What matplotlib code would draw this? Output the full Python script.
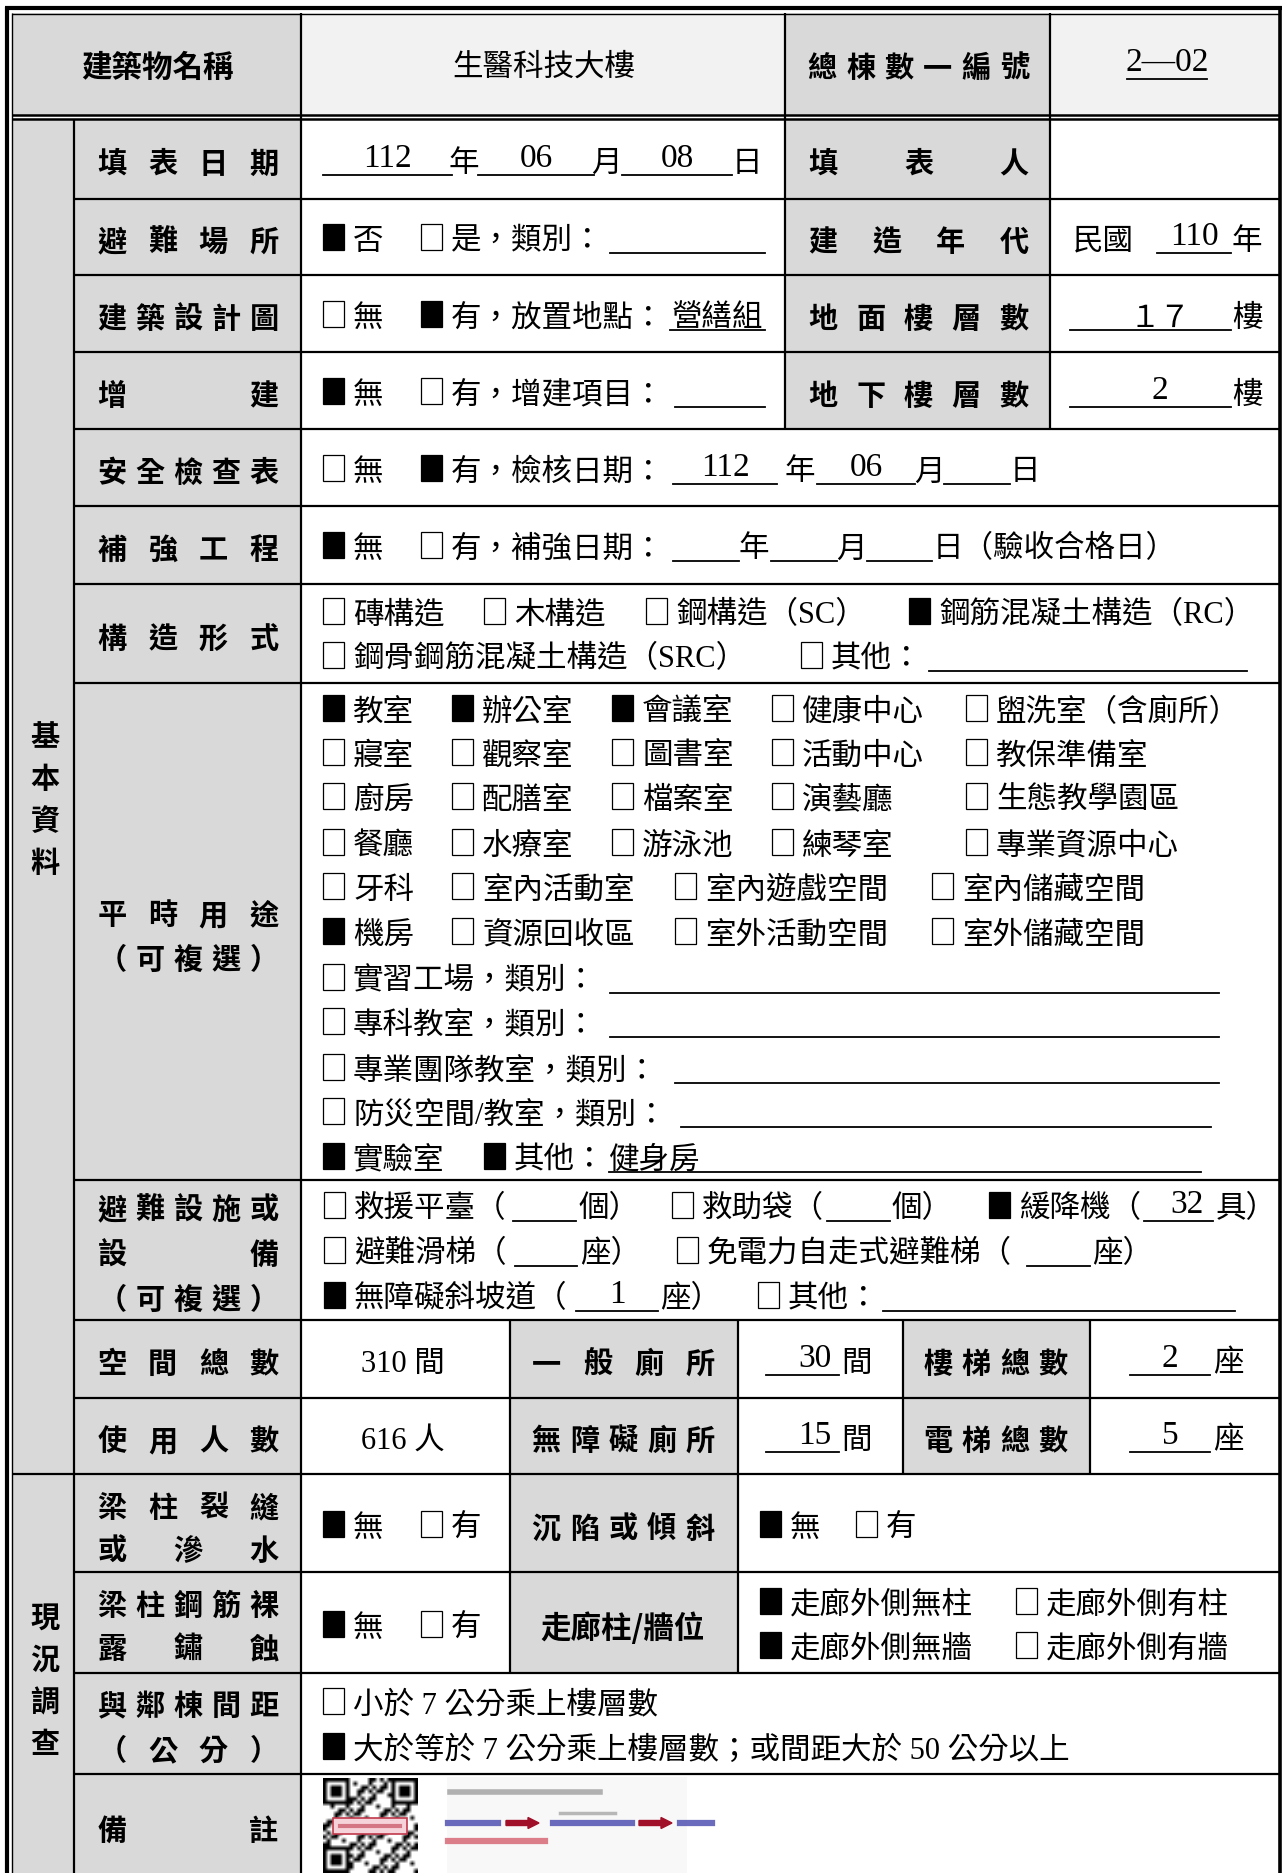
import matplotlib.pyplot as plt
from matplotlib.patches import Rectangle, FancyArrow
import numpy as np

# ---- form contents ----
building_name = '生醫科技大樓'
building_no = '2—02'
fill_date = ['112', '06', '08']
build_year = '110'
floors_up = '１７'
floors_down = '2'
drawing_place = '營繕組'
check_date = ['112', '06', '']

shelter = [True, False]          # 否 / 是
drawing = [False, True]          # 無 / 有
extension = [True, False]        # 無 / 有
safety = [False, True]           # 無 / 有
reinforce = [True, False]        # 無 / 有

structure_1 = [(False, '磚構造'), (False, '木構造'), (False, '鋼構造（SC）'),
               (True, '鋼筋混凝土構造（RC）')]
structure_2 = [(False, '鋼骨鋼筋混凝土構造（SRC）'), (False, '其他：')]

usage_rows = [
    [(True, '教室'), (True, '辦公室'), (True, '會議室'), (False, '健康中心'), (False, '盥洗室（含廁所）')],
    [(False, '寢室'), (False, '觀察室'), (False, '圖書室'), (False, '活動中心'), (False, '教保準備室')],
    [(False, '廚房'), (False, '配膳室'), (False, '檔案室'), (False, '演藝廳'), (False, '生態教學園區')],
    [(False, '餐廳'), (False, '水療室'), (False, '游泳池'), (False, '練琴室'), (False, '專業資源中心')],
    [(False, '牙科'), (False, '室內活動室'), (False, '室內遊戲空間'), (False, '室內儲藏空間')],
    [(True, '機房'), (False, '資源回收區'), (False, '室外活動空間'), (False, '室外儲藏空間')],
]
usage_other = [(False, '實習工場，類別：'), (False, '專科教室，類別：'),
               (False, '專業團隊教室，類別：'), (False, '防災空間/教室，類別：')]
usage_last = [(True, '實驗室'), (True, '其他：')]
usage_other_text = '健身房'

# (checked, text before blank, value, text after blank)
evac_rows = [
    [(False, '救援平臺（', '', '個）'), (False, '救助袋（', '', '個）'), (True, '緩降機（', '32', '具）')],
    [(False, '避難滑梯（', '', '座）'), (False, '免電力自走式避難梯（', '', '座）')],
    [(True, '無障礙斜坡道（', '1', '座）'), (False, '其他：', '', '')],
]

room_total = '310 間'
users = '616 人'
toilet_general = '30'
toilet_access = '15'
stairs = '2'
elevators = '5'

crack = [True, False]
tilt = [True, False]
rebar = [True, False]
corridor = [(True, '走廊外側無柱'), (False, '走廊外側有柱'), (True, '走廊外側無牆'), (False, '走廊外側有牆')]
distance = [(False, '小於 7 公分乘上樓層數'), (True, '大於等於 7 公分乘上樓層數；或間距大於 50 公分以上')]

# ---- figure ----
fig = plt.figure(figsize=(12.84, 18.74), dpi=100)
ax = fig.add_axes([0, 0, 1, 1])
ax.set_xlim(0, 1284)
ax.set_ylim(1874, 0)
ax.axis('off')

GRAY = '#d9d9d9'
LIGHT = '#f2f2f2'
BODY = ['Liberation Serif', 'Noto Sans CJK TC']
CJK = ['Noto Sans CJK TC']
FS = 22
LFS = 21
DY = 4   # text sits a little lower than the cell middle


def fill(x0, x1, y0, y1, c):
    ax.add_patch(Rectangle((x0, y0), x1 - x0, y1 - y0, facecolor=c, edgecolor='none', zorder=0))


def hl(y, x0, x1, lw=1.6):
    ax.plot([x0, x1], [y, y], color='black', lw=lw, solid_capstyle='butt', zorder=2)


def vl(x, y0, y1, lw=1.6):
    ax.plot([x, x], [y0, y1], color='black', lw=lw, solid_capstyle='butt', zorder=2)


def body(x, y, s, ha='left', size=FS, dy=DY):
    ax.text(x, y + dy, s, ha=ha, va='center', fontsize=size, family=BODY, zorder=4)


def bold(x, y, s, size=LFS):
    ax.text(x, y + DY, s, ha='center', va='center', fontsize=size,
            fontweight='bold', family=CJK, zorder=4)


def label(x0, x1, y, s, size=LFS):
    n = len(s)
    for i, ch in enumerate(s):
        bold(x0 + (x1 - x0) * i / (n - 1), y, ch, size)


def box(x, y, on):
    ax.add_patch(Rectangle((x, y - 13), 21, 26, facecolor='black' if on else 'white',
                           edgecolor='black', lw=0.9, zorder=3))


def item(x, y, on, s):
    box(x, y, on)
    body(x + 30, y, s)


def field(x0, x1, y, s='', xc=None, size=24):
    ax.plot([x0, x1], [y + 16, y + 16], color='black', lw=1.3, zorder=3)
    if s:
        # numbers (serif) sit higher than the CJK glyphs so they clear the line
        dy = DY if size == FS else -1
        body((x0 + x1) / 2 if xc is None else xc, y, s, ha='center', size=size, dy=dy)


# backgrounds
fill(12, 301, 14, 116, GRAY)
fill(301, 785, 14, 116, LIGHT)
fill(785, 1050, 14, 116, GRAY)
fill(1050, 1279, 14, 116, LIGHT)
fill(12, 301, 120, 1874, GRAY)
fill(785, 1050, 120, 430, GRAY)
fill(510, 738, 1321, 1674, GRAY)
fill(903, 1090, 1321, 1475, GRAY)

# grid
hl(9, 5, 1282, 3)
hl(14.5, 12, 1279, 1)
vl(6.5, 8, 1874, 3)
vl(12, 14, 1874, 1)
vl(1280, 8, 1874, 2.6)
hl(116, 12, 1279, 1.8)
hl(120, 12, 1279, 1.8)
for y in [200, 276, 353, 430, 507, 585, 684, 1181, 1321, 1399, 1573, 1674, 1775]:
    hl(y, 74, 1279)
hl(1475, 12, 1279)
vl(74, 120, 1874)
vl(301, 14, 1874)
for x in [785, 1050]:
    vl(x, 14, 430)
for x in [510, 738]:
    vl(x, 1321, 1674)
for x in [903, 1090]:
    vl(x, 1321, 1475)

# header
bold(157, 64, '建築物名稱', LFS + 1)
body(544, 64, building_name, ha='center')
label(822, 1015, 64, '總棟數一編號')
field(1127, 1207, 64, building_no)

# left vertical titles
for i, ch in enumerate('基本資料'):
    bold(45, 733 + 42 * i, ch)
for i, ch in enumerate('現況調查'):
    bold(45, 1614 + 42 * i, ch)

L0, L1 = 112, 264

# 填表日期
label(L0, L1, 160, '填表日期')
field(323, 452, 160, fill_date[0])
body(464, 160, '年', ha='center')
field(478, 594, 160, fill_date[1])
body(606, 160, '月', ha='center')
field(622, 732, 160, fill_date[2])
body(747, 160, '日', ha='center')
label(823, 1014, 160, '填表人')

# 避難場所
label(L0, L1, 238, '避難場所')
item(323, 238, shelter[0], '否')
item(421, 238, shelter[1], '是，類別：')
field(610, 765, 238)
label(823, 1014, 238, '建造年代')
body(1073, 238, '民國')
field(1157, 1231, 238, build_year)
body(1247, 238, '年', ha='center')

# 建築設計圖
label(L0, L1, 315, '建築設計圖')
item(323, 315, drawing[0], '無')
item(421, 315, drawing[1], '有，放置地點：')
field(670, 765, 315, drawing_place, size=FS)
label(823, 1014, 315, '地面樓層數')
field(1070, 1231, 315, floors_up, xc=1160, size=FS)
body(1247, 315, '樓', ha='center')

# 增建
label(L0, L1, 392, '增建')
item(323, 392, extension[0], '無')
item(421, 392, extension[1], '有，增建項目：')
field(675, 765, 392)
label(823, 1014, 392, '地下樓層數')
field(1070, 1231, 392, floors_down, xc=1160)
body(1247, 392, '樓', ha='center')

# 安全檢查表
label(L0, L1, 469, '安全檢查表')
item(323, 469, safety[0], '無')
item(421, 469, safety[1], '有，檢核日期：')
field(673, 777, 469, check_date[0])
body(800, 469, '年', ha='center')
field(817, 915, 469, check_date[1])
body(929, 469, '月', ha='center')
field(944, 1010, 469, check_date[2])
body(1025, 469, '日', ha='center')

# 補強工程
label(L0, L1, 546, '補強工程')
item(323, 546, reinforce[0], '無')
item(421, 546, reinforce[1], '有，補強日期：')
field(673, 739, 546)
body(754, 546, '年', ha='center')
field(771, 837, 546)
body(851, 546, '月', ha='center')
field(867, 932, 546)
body(933, 546, '日（驗收合格日）')

# 構造形式
label(L0, L1, 635, '構造形式')
for x, (on, s) in zip([323, 484, 646, 909], structure_1):
    item(x, 612, on, s)
for x, (on, s) in zip([323, 801], structure_2):
    item(x, 656, on, s)
field(929, 1247, 656)

# 平時用途
label(L0, L1, 911, '平時用途')
label(L0, L1, 956, '（可複選）')
xs5 = [323, 452, 612, 772, 966]
xs4 = [323, 452, 675, 932]
for y, row in zip([709, 753, 797, 843, 887, 932], usage_rows):
    xs = xs5 if len(row) == 5 else xs4
    for x, (on, s) in zip(xs, row):
        item(x, y, on, s)
blanks = [(610, 1219), (610, 1219), (675, 1219), (681, 1211)]
for y, (on, s), (b0, b1) in zip([978, 1022, 1068, 1112], usage_other, blanks):
    item(323, y, on, s)
    field(b0, b1, y)
item(323, 1157, usage_last[0][0], usage_last[0][1])
item(484, 1157, usage_last[1][0], usage_last[1][1])
field(609, 1201, 1157)
body(609, 1157, usage_other_text)

# 避難設施或設備
label(L0, L1, 1206, '避難設施或')
label(L0, L1, 1251, '設備')
label(L0, L1, 1296, '（可複選）')
evac_layout = [
    [(324, 513, 576, 579), (672, 827, 890, 892), (989, 1144, 1213, 1216)],
    [(324, 515, 577, 580), (677, 1027, 1090, 1092)],
    [(324, 576, 658, 660), (758, 883, 1235, 1235)],
]
for y, row, lay in zip([1206, 1251, 1296], evac_rows, evac_layout):
    for (on, pre, val, post), (bx, u0, u1, px) in zip(row, lay):
        item(bx, y, on, pre)
        field(u0, u1, y, val, xc=(u0 + u1) / 2 + (8 if len(val) > 1 else 0))
        if post:
            body(px, y, post)

# 空間總數 / 使用人數
label(L0, L1, 1360, '空間總數')
body(403, 1360, room_total, ha='center')
label(546, 700, 1360, '一般廁所')
field(766, 839, 1360, toilet_general, xc=815)
body(841, 1360, '間')
label(938, 1053, 1360, '樓梯總數')
field(1130, 1210, 1360, stairs, xc=1170)
body(1213, 1360, '座')

label(L0, L1, 1437, '使用人數')
body(403, 1437, users, ha='center')
label(546, 700, 1437, '無障礙廁所')
field(766, 839, 1437, toilet_access, xc=815)
body(841, 1437, '間')
label(938, 1053, 1437, '電梯總數')
field(1130, 1210, 1437, elevators, xc=1170)
body(1213, 1437, '座')

# 梁柱裂縫或滲水
label(L0, L1, 1504, '梁柱裂縫')
label(L0, L1, 1547, '或滲水')
item(323, 1525, crack[0], '無')
item(421, 1525, crack[1], '有')
label(546, 700, 1525, '沉陷或傾斜')
item(760, 1525, tilt[0], '無')
item(856, 1525, tilt[1], '有')

# 梁柱鋼筋裸露鏽蝕
label(L0, L1, 1602, '梁柱鋼筋裸')
label(L0, L1, 1645, '露鏽蝕')
item(323, 1625, rebar[0], '無')
item(421, 1625, rebar[1], '有')
bold(623, 1625, '走廊柱/牆位', LFS + 1)
for (x, y), (on, s) in zip([(760, 1602), (1016, 1602), (760, 1646), (1016, 1646)], corridor):
    item(x, y, on, s)

# 與鄰棟間距
label(L0, L1, 1702, '與鄰棟間距')
label(L0, L1, 1747, '（公分）')
for y, (on, s) in zip([1702, 1747], distance):
    item(323, y, on, s)

# 備註
label(L0, L1, 1827, '備註')

# QR code picture
n = 25
ii, jj = np.meshgrid(np.arange(n), np.arange(n), indexing='ij')
qr = ((ii * jj + ii + 2 * jj) % 3 == 0) ^ ((ii + jj) % 4 == 1)
qr = qr.astype(float)
for (r, c) in [(0, 0), (0, n - 7), (n - 7, 0)]:
    qr[r:r + 7, c:c + 7] = 0
    qr[r:r + 7, c:c + 7][[0, 6], :] = 1
    qr[r:r + 7, c:c + 7][:, [0, 6]] = 1
    qr[r + 2:r + 5, c + 2:c + 5] = 1
ax.imshow(1 - qr, cmap='gray', vmin=0, vmax=1, extent=(323, 418, 1874, 1779),
          interpolation='bilinear', zorder=3)
ax.add_patch(Rectangle((333, 1819), 74, 16, facecolor='#f6d3da', edgecolor='#c0394b', lw=1.2, zorder=4))
ax.plot([340, 400], [1827, 1827], color='#c0394b', lw=3, alpha=0.6, zorder=5)

# small picture with blurred instructions
ax.add_patch(Rectangle((447, 1778), 240, 96, facecolor='#f8f8f8', edgecolor='none', zorder=3))
ax.plot([450, 600], [1793, 1793], color='#777777', lw=4, alpha=0.55, zorder=4)
ax.plot([560, 615], [1814, 1814], color='#777777', lw=2.5, alpha=0.5, zorder=4)
for x0, x1 in [(448, 498), (553, 632), (680, 712)]:
    ax.plot([x0, x1], [1824, 1824], color='#3a3aa8', lw=4.5, alpha=0.75, zorder=4)
for x0 in [506, 639]:
    ax.add_patch(FancyArrow(x0, 1824, 22, 0, width=5, head_width=11, head_length=11,
                            color='#a01028', zorder=4))
ax.plot([448, 545], [1842, 1842], color='#d04a5a', lw=4.5, alpha=0.7, zorder=4)

fig.savefig('out.png', dpi=100)
